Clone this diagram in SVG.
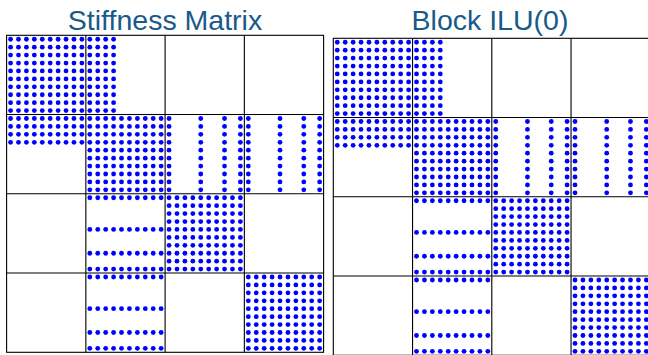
<svg xmlns="http://www.w3.org/2000/svg" xmlns:xlink="http://www.w3.org/1999/xlink" width="648" height="355" viewBox="0 0 648 355">
<style>
.title{font-family:"Liberation Sans",Arial,sans-serif;font-size:28.5px;fill:#185a8a;text-anchor:middle}
.grid{fill:none;stroke:#000;stroke-width:1.1}
.dot{fill:#0000ff}
</style>
<defs>
<circle id="d" class="dot" r="2.4"/>
<g id="r10">
<use href="#d" x="0"/><use href="#d" x="7.925"/><use href="#d" x="15.85"/><use href="#d" x="23.775"/><use href="#d" x="31.7"/><use href="#d" x="39.625"/><use href="#d" x="47.55"/><use href="#d" x="55.475"/><use href="#d" x="63.4"/><use href="#d" x="71.325"/>
</g>
<g id="c10">
<use href="#d" y="0"/><use href="#d" y="7.925"/><use href="#d" y="15.85"/><use href="#d" y="23.775"/><use href="#d" y="31.7"/><use href="#d" y="39.625"/><use href="#d" y="47.55"/><use href="#d" y="55.475"/><use href="#d" y="63.4"/><use href="#d" y="71.325"/>
</g>
<g id="blk">
<use href="#r10" y="0"/><use href="#r10" y="7.925"/><use href="#r10" y="15.85"/><use href="#r10" y="23.775"/><use href="#r10" y="31.7"/><use href="#r10" y="39.625"/><use href="#r10" y="47.55"/><use href="#r10" y="55.475"/><use href="#r10" y="63.4"/><use href="#r10" y="71.325"/>
</g>
<g id="pattern">
<!-- diagonal blocks -->
<use href="#blk" x="3.9625" y="3.9625"/>
<use href="#blk" x="83.2125" y="83.2125"/>
<use href="#blk" x="162.4625" y="162.4625"/>
<use href="#blk" x="241.7125" y="241.7125"/>
<!-- block (1,2) -->
<use href="#c10" x="83.2125" y="3.9625"/><use href="#c10" x="91.1375" y="3.9625"/><use href="#c10" x="99.0625" y="3.9625"/><use href="#c10" x="106.9875" y="3.9625"/>
<!-- block (2,1) -->
<use href="#r10" x="3.9625" y="83.2125"/><use href="#r10" x="3.9625" y="91.1375"/><use href="#r10" x="3.9625" y="99.0625"/><use href="#r10" x="3.9625" y="106.9875"/>
<!-- block (2,3) -->
<use href="#c10" x="162.4625" y="83.2125"/><use href="#c10" x="194.1625" y="83.2125"/><use href="#c10" x="217.9375" y="83.2125"/><use href="#c10" x="233.7875" y="83.2125"/>
<!-- block (2,4) -->
<use href="#c10" x="241.7125" y="83.2125"/><use href="#c10" x="273.4125" y="83.2125"/><use href="#c10" x="297.1875" y="83.2125"/><use href="#c10" x="313.0375" y="83.2125"/>
<!-- block (3,2) -->
<use href="#r10" x="83.2125" y="162.4625"/><use href="#r10" x="83.2125" y="194.1625"/><use href="#r10" x="83.2125" y="217.9375"/><use href="#r10" x="83.2125" y="233.7875"/>
<!-- block (4,2) -->
<use href="#r10" x="83.2125" y="241.7125"/><use href="#r10" x="83.2125" y="273.4125"/><use href="#r10" x="83.2125" y="297.1875"/><use href="#r10" x="83.2125" y="313.0375"/>
</g>
<g id="gridlines">
<rect class="grid" x="0" y="0" width="317" height="317"/>
<path class="grid" d="M79.25 0V317M158.5 0V317M237.75 0V317M0 79.25H317M0 158.5H317M0 237.75H317"/>
</g>
</defs>
<rect width="648" height="355" fill="#fff"/>
<g id="stiffness-matrix">
<text class="title" x="165" y="29.5">Stiffness Matrix</text>
<g transform="translate(6.6,35.3)">
<use href="#gridlines"/>
<use href="#pattern"/>
</g>
</g>
<g id="block-ilu0">
<text class="title" x="490" y="29.5">Block ILU(0)</text>
<g transform="translate(333.3,38.3)">
<use href="#gridlines"/>
<use href="#pattern"/>
</g>
</g>
</svg>
